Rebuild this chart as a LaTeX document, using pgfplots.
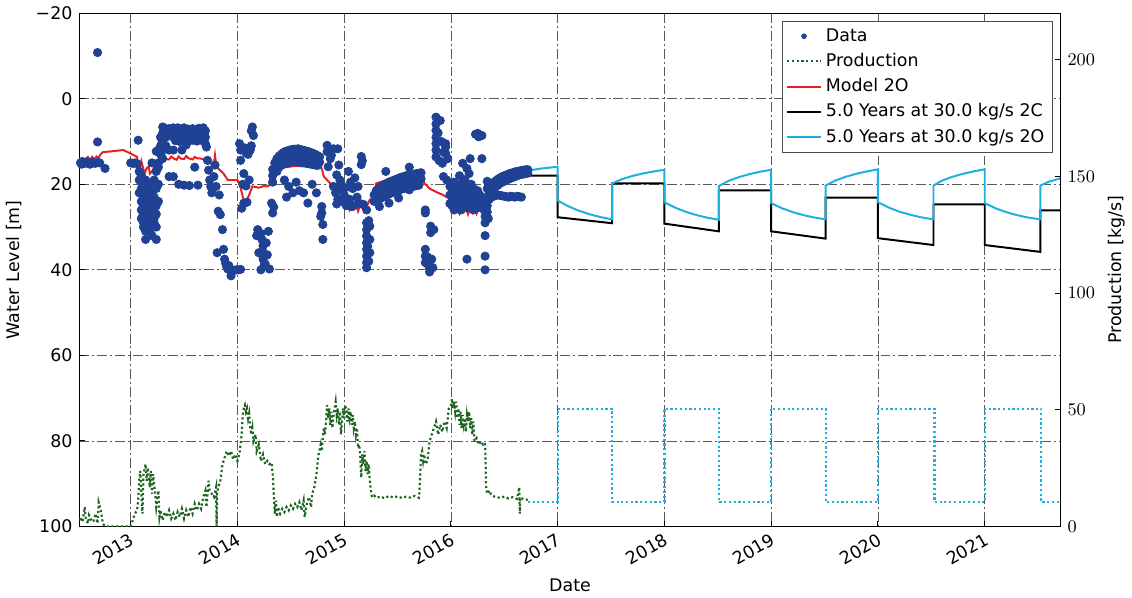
\documentclass[border=0pt]{standalone}
\usepackage{fontspec}
\setmainfont{DejaVu Sans}
\usepackage{pgfplots}
\pgfplotsset{compat=1.18}
\definecolor{datablue}{RGB}{32,66,148}
\definecolor{modelred}{RGB}{235,30,35}
\definecolor{prodgreen}{RGB}{30,100,35}
\definecolor{cyanline}{RGB}{30,175,225}
\pgfplotsset{
  common/.style={
    scale only axis, width=496pt, height=259.5pt,
    xmin=2012.52, xmax=2021.71,
    tick align=inside, major tick length=3pt,
    tick label style={font=\fontsize{8.8}{10.5}\selectfont},
    label style={font=\fontsize{8.8}{10.5}\selectfont},
    axis line style={line width=0.6pt},
    every tick/.style={black, line width=0.5pt},
  }
}
\begin{document}
\begin{tikzpicture}
\begin{axis}[common,
  ymin=-20, ymax=100, y dir=reverse,
  xtick={2013,2014,2015,2016,2017,2018,2019,2020,2021},
  xticklabels={2013,2014,2015,2016,2017,2018,2019,2020,2021},
  xticklabel style={rotate=30, anchor=north east, inner sep=2pt},
  ytick={-20,0,20,40,60,80,100},
  yticklabels={−20,0,20,40,60,80,100},
  ytick pos=left, xtick pos=bottom,
  grid=major,
  major grid style={black!65, line width=0.4pt, dash pattern=on 5pt off 1.5pt on 1pt off 1.5pt},
  xlabel={Date}, ylabel={Water Level [m]},
]
% Data
\addplot[only marks, mark=*, mark size=2.1pt, mark options={draw=datablue, fill=datablue}] coordinates {
(2012.53,15.0)(2012.55,14.7)(2012.57,15.1)(2012.59,14.9)(2012.61,15.2)(2012.63,14.8)(2012.65,15.0)(2012.67,15.1)(2012.69,14.9)(2012.71,15.0)(2012.54,15.3)(2012.62,15.3)
(2012.69,-10.8)(2012.69,10.1)(2012.76,16.3)
(2013.00,15.0)(2013.02,15.1)(2013.04,15.0)(2013.06,15.2)(2013.07,9.7)
(2013.08,17)(2013.08,19)(2013.08,22)
(2013.10,18)(2013.10,21)(2013.10,24)(2013.10,26)(2013.10,28)
(2013.12,20)(2013.12,23)(2013.12,25)(2013.12,27)(2013.12,29)(2013.12,30)
(2013.14,19)(2013.14,22)(2013.14,24)(2013.14,26)(2013.14,28)(2013.14,29.5)(2013.14,31)(2013.14,32.9)
(2013.16,21)(2013.16,23)(2013.16,25)(2013.16,27)(2013.16,28.5)(2013.16,30)
(2013.18,20)(2013.18,24)(2013.18,26)(2013.18,28)(2013.18,29.5)(2013.18,31)
(2013.20,15)(2013.20,22)(2013.20,25)(2013.20,27)(2013.20,28.5)(2013.20,30)(2013.20,32)
(2013.22,19)(2013.22,23)(2013.22,26)(2013.22,28)(2013.22,29)
(2013.24,12.3)(2013.24,17)(2013.24,21)(2013.24,25)(2013.24,27)(2013.24,30)(2013.24,32.9)
(2013.26,12)(2013.26,15)(2013.26,16)(2013.26,20)(2013.26,24)
(2013.28,13)(2013.28,11)(2013.28,9)(2013.30,6.6)(2013.30,8)(2013.30,10)(2013.30,12)(2013.30,14)
(2013.33,7)(2013.33,9)(2013.33,11)(2013.36,7)(2013.36,8)(2013.36,18.2)(2013.36,12)
(2013.40,6.8)(2013.40,8)(2013.40,9)(2013.40,18.2)(2013.40,12)
(2013.42,7.2)(2013.42,8.6)(2013.42,9.8)(2013.44,6.8)(2013.44,8.0)(2013.44,9.4)
(2013.46,7.4)(2013.46,8.8)(2013.46,10.0)(2013.48,7.0)(2013.48,8.2)(2013.48,9.5)
(2013.50,6.8)(2013.50,8.5)(2013.50,9.8)(2013.52,7.3)(2013.52,8.1)(2013.52,9.3)
(2013.54,7.1)(2013.54,8.7)(2013.54,9.9)(2013.56,7.5)(2013.56,8.3)(2013.56,9.4)
(2013.58,7.0)(2013.58,8.5)(2013.58,9.7)(2013.60,7.4)(2013.60,8.2)(2013.60,9.5)
(2013.62,7.2)(2013.62,8.8)(2013.62,9.9)(2013.64,6.9)(2013.64,8.4)(2013.64,9.6)
(2013.66,7.3)(2013.66,8.6)(2013.68,6.8)(2013.68,8.3)(2013.68,9.9)
(2013.70,7.5)(2013.70,9.0)(2013.70,10.5)
(2013.45,20)(2013.50,20.2)(2013.55,20.3)(2013.60,16)(2013.63,20.2)(2013.48,12)(2013.52,10.8)
(2013.71,11.3)(2013.72,14.4)(2013.73,16.7)(2013.74,19)(2013.75,20.5)(2013.78,18.2)(2013.80,20.5)(2013.76,22)(2013.79,15.5)
(2013.82,26.3)(2013.84,27.1)(2013.86,30.6)(2013.87,35.2)(2013.81,36)(2013.83,22.5)
(2013.88,37.5)(2013.89,38.5)(2013.90,39.3)(2013.91,39.8)(2013.93,40)(2013.95,40.1)(2013.97,40.1)(2013.99,40)(2014.01,40)(2014.03,39.9)(2013.94,41.4)(2013.92,39)
(2014.14,6.6)(2014.15,8.6)(2014.13,7.5)(2014.03,12)(2014.12,12)(2014.03,14.4)(2014.06,17.5)(2014.11,19)(2014.04,25.6)(2014.06,24.4)(2014.02,10.5)(2014.10,13)(2014.05,20)(2014.13,11)(2014.07,11.5)(2014.08,12.7)(2014.09,24.2)(2014.08,20.4)
(2014.18,32)(2014.19,30.6)(2014.22,31.5)(2014.23,32.9)(2014.24,34.4)(2014.24,35.9)(2014.24,37.5)(2014.25,39)(2014.27,33.7)(2014.30,39.8)(2014.20,36)(2014.28,36.5)(2014.26,38.6)(2014.22,40)(2014.29,31)
(2014.32,24.4)(2014.33,26.7)(2014.34,25.3)
(2014.33,16.5)(2014.33,18.0)(2014.33,19.5)(2014.35,15.0)(2014.35,16.5)
(2014.37,14.0)(2014.37,15.5)(2014.37,17.0)(2014.39,13.4)(2014.39,14.8)(2014.39,16.0)
(2014.41,13.0)(2014.41,14.3)(2014.41,15.6)(2014.43,12.6)(2014.43,14.0)(2014.43,15.3)
(2014.45,12.3)(2014.45,13.8)(2014.45,15.1)(2014.47,12.2)(2014.47,13.6)(2014.47,15.0)
(2014.49,12.0)(2014.49,13.4)(2014.49,14.8)(2014.51,11.9)(2014.51,13.3)(2014.51,14.7)
(2014.53,11.8)(2014.53,13.2)(2014.53,14.6)(2014.55,11.8)(2014.55,13.3)(2014.55,14.7)
(2014.57,11.7)(2014.57,13.2)(2014.57,14.8)(2014.59,11.9)(2014.59,13.4)(2014.59,14.9)
(2014.61,12.0)(2014.61,13.5)(2014.61,15.0)(2014.63,12.1)(2014.63,13.6)(2014.63,15.0)
(2014.65,12.3)(2014.65,13.7)(2014.65,15.1)(2014.67,12.4)(2014.67,13.8)(2014.67,15.2)
(2014.69,12.6)(2014.69,14.0)(2014.69,15.3)(2014.71,12.8)(2014.71,14.2)(2014.71,15.4)
(2014.73,13.0)(2014.73,14.4)(2014.73,15.5)(2014.75,13.3)(2014.75,14.6)(2014.75,15.6)
(2014.77,13.6)(2014.77,14.8)
(2014.44,19)(2014.48,20.5)(2014.52,22)(2014.55,19.5)(2014.58,21.5)(2014.62,22)(2014.66,24.4)(2014.70,20)(2014.74,22)(2014.46,23)
(2014.79,25.2)(2014.79,26.7)(2014.80,29.4)(2014.80,32.9)(2014.78,27.5)
(2014.84,10.9)(2014.84,12.4)(2014.88,13.2)(2014.90,11.7)(2014.94,11.7)(2014.95,15.5)(2014.85,15.9)(2014.93,17.8)(2014.96,19)(2014.87,14)
(2014.90,20.5)(2014.92,22)(2014.94,23.5)(2014.96,21)(2014.98,24)(2015.00,22.5)(2015.02,25)(2014.93,24.6)(2014.97,20)(2015.01,20.8)
(2015.04,17)(2015.06,19.5)(2015.08,21)(2015.10,18.5)(2015.12,23)(2015.14,24.4)(2015.16,13.5)(2015.17,14.5)(2015.16,15.4)(2015.05,23.5)(2015.09,25)(2015.13,20.5)(2015.18,24.7)(2015.03,24.3)(2015.07,25.2)
(2015.21,29)(2015.21,30.6)(2015.21,32.1)(2015.21,33.7)(2015.21,35.2)(2015.21,36.8)(2015.21,38.3)(2015.21,39.5)(2015.24,29.8)(2015.24,32.9)(2015.24,36)(2015.21,26)(2015.23,28.5)(2015.22,34.5)(2015.23,38)
(2015.28,22.5)(2015.28,24.0)(2015.30,21.5)(2015.30,23.0)
(2015.32,21.0)(2015.32,22.4)(2015.32,23.8)(2015.34,20.6)(2015.34,22.0)(2015.34,23.3)
(2015.36,20.3)(2015.36,21.7)(2015.36,23.0)(2015.38,20.0)(2015.38,21.4)(2015.38,22.8)
(2015.40,19.8)(2015.40,21.2)(2015.40,22.5)(2015.42,19.5)(2015.42,21.0)(2015.42,22.3)
(2015.44,19.3)(2015.44,20.7)(2015.44,22.0)(2015.46,19.1)(2015.46,20.5)(2015.46,21.9)
(2015.48,18.9)(2015.48,20.3)(2015.48,21.7)(2015.50,18.7)(2015.50,20.1)(2015.50,21.5)
(2015.52,18.5)(2015.52,19.9)(2015.52,21.3)(2015.54,18.3)(2015.54,19.7)(2015.54,21.1)
(2015.56,18.2)(2015.56,19.6)(2015.56,21.0)(2015.58,18.0)(2015.58,19.4)(2015.58,20.8)
(2015.60,17.9)(2015.60,19.3)(2015.60,20.7)(2015.62,17.8)(2015.62,19.2)(2015.62,20.6)
(2015.64,17.7)(2015.64,19.1)(2015.64,20.5)(2015.66,17.6)(2015.66,19.0)(2015.66,20.4)
(2015.68,17.5)(2015.68,18.9)(2015.68,20.3)(2015.70,17.4)(2015.70,18.8)(2015.70,20.2)
(2015.72,17.3)(2015.72,18.7)
(2015.33,25.2)(2015.42,24.4)(2015.51,23.2)(2015.61,21.3)(2015.39,17)(2015.61,16)
(2015.76,26)(2015.76,26.7)(2015.81,29.8)(2015.81,31.3)(2015.84,30.6)(2015.76,35.2)(2015.76,36.8)(2015.76,38.3)(2015.79,39)(2015.82,37.5)(2015.80,40.5)(2015.78,37)(2015.83,39.5)
(2015.86,4.3)(2015.86,5.9)(2015.86,7.4)(2015.86,9)(2015.86,10.5)(2015.86,12)(2015.86,13.6)(2015.90,5.1)(2015.95,10.5)(2015.95,11.3)(2015.95,12.8)(2015.92,15.1)(2015.93,18.2)(2015.96,19)(2015.88,8)(2015.91,10)(2015.93,12.5)(2015.89,14.5)(2015.97,14)
(2015.99,20.5)(2015.99,22.5)(2015.99,24.5)(2016.01,21.0)(2016.01,23.0)(2016.01,25.0)
(2016.03,19.5)(2016.03,22.0)(2016.03,24.0)(2016.03,26.0)(2016.05,20.5)(2016.05,22.5)(2016.05,24.5)
(2016.07,21.5)(2016.07,23.5)(2016.07,25.5)(2016.09,20.0)(2016.09,22.0)(2016.09,24.0)(2016.09,26.0)
(2016.11,21.0)(2016.11,23.0)(2016.11,25.0)(2016.13,19.0)(2016.13,22.5)(2016.13,24.5)
(2016.15,20.5)(2016.15,23.5)(2016.15,25.5)(2016.17,21.5)(2016.17,22.5)(2016.17,24.5)
(2016.19,20.0)(2016.19,23.0)(2016.19,25.0)(2016.21,21.0)(2016.21,24.0)(2016.21,26.0)
(2016.23,22.0)(2016.23,24.5)(2016.25,21.5)(2016.25,23.5)(2016.25,25.5)
(2016.27,22.5)(2016.27,24.5)(2016.29,23.0)(2016.29,25.0)(2016.31,24.0)(2016.31,26.0)
(2016.11,15.1)(2016.15,16.3)(2016.17,17.5)(2016.18,14)(2016.13,19)(2016.08,18)
(2016.23,8.3)(2016.25,8.1)(2016.27,8.4)(2016.29,8.6)(2016.26,8.9)(2016.29,14)(2016.15,37.5)(2016.32,36.8)(2016.32,40)(2016.32,27.5)(2016.32,29)(2016.32,32)
(2016.34,19.3)(2016.34,21)(2016.34,23)(2016.34,25)(2016.34,26.5)(2016.35,28)
(2016.36,20.5)(2016.36,22.0)(2016.36,23.5)(2016.38,20.2)(2016.38,21.5)(2016.38,23.0)
(2016.40,19.6)(2016.40,21.0)(2016.40,22.8)(2016.42,19.2)(2016.42,20.6)(2016.42,22.6)
(2016.44,18.8)(2016.44,20.2)(2016.44,22.5)(2016.46,18.5)(2016.46,19.8)(2016.46,22.6)
(2016.48,18.2)(2016.48,19.5)(2016.48,22.7)(2016.50,18.0)(2016.50,19.3)(2016.50,22.8)
(2016.52,17.8)(2016.52,19.0)(2016.52,22.9)(2016.54,17.6)(2016.54,18.8)(2016.54,23.0)
(2016.56,17.4)(2016.56,18.6)(2016.56,22.8)(2016.58,17.3)(2016.58,18.4)(2016.58,22.9)
(2016.60,17.1)(2016.60,18.2)(2016.60,23.0)(2016.62,17.0)(2016.62,18.0)(2016.62,22.8)
(2016.64,16.9)(2016.64,17.8)(2016.64,22.9)(2016.66,16.8)(2016.66,17.7)(2016.66,23.0)
(2016.68,16.7)(2016.68,17.6)(2016.70,16.6)(2016.70,17.5)(2016.72,16.6)(2016.72,17.4)
};
% Model 2O
\addplot[modelred, line width=1pt] coordinates {
(2012.52,14.2)(2012.54,13.9)(2012.56,14.8)(2012.58,14.0)(2012.60,13.6)(2012.62,14.5)(2012.64,13.6)(2012.66,14.2)(2012.68,13.5)(2012.70,13.8)(2012.72,12.9)(2012.74,12.5)(2012.93,12.0)(2013.00,12.8)(2013.06,13.6)(2013.07,15.4)(2013.09,15.9)(2013.10,14.6)(2013.12,16.5)(2013.13,17.5)(2013.15,16.3)(2013.17,15.8)(2013.18,17.5)(2013.20,17.0)(2013.22,16.0)(2013.25,16.5)(2013.27,14.2)(2013.28,14.0)(2013.30,14.0)(2013.32,13.4)(2013.33,14.1)(2013.36,14.2)(2013.38,13.5)(2013.40,13.9)(2013.43,14.3)(2013.45,13.5)(2013.47,14.0)(2013.50,14.1)(2013.52,13.4)(2013.54,13.9)(2013.58,14.2)(2013.60,13.6)(2013.62,13.9)(2013.66,14.0)(2013.70,14.3)(2013.71,15.1)(2013.78,15.1)(2013.79,13.2)(2013.80,15.3)(2013.82,16.3)(2013.87,17.5)(2013.91,19.0)(2014.00,19.0)(2014.02,19.8)(2014.05,22.9)(2014.07,24.4)(2014.09,23.5)(2014.11,22.5)(2014.14,20.5)(2014.20,20.8)(2014.25,20.4)(2014.28,20.5)(2014.30,20.2)(2014.31,17.1)(2014.34,16.3)(2014.45,16.0)(2014.55,15.7)(2014.65,15.8)(2014.71,15.9)(2014.78,15.5)(2014.81,18.2)(2014.87,19.8)(2014.90,22.1)(2014.93,23.8)(2014.99,24.3)(2015.01,25.5)(2015.03,24.6)(2015.05,26.0)(2015.07,24.8)(2015.09,25.8)(2015.11,24.5)(2015.13,26.3)(2015.15,24.9)(2015.17,25.6)(2015.19,24.6)(2015.21,25.2)(2015.24,23.6)(2015.28,23.6)(2015.30,19.8)(2015.40,19.0)(2015.50,18.3)(2015.60,17.7)(2015.73,17.1)(2015.75,19.8)(2015.77,20.2)(2015.80,21.0)(2015.84,21.5)(2015.88,22.0)(2015.92,22.4)(2015.95,22.9)(2015.98,22.9)(2016.00,26.0)(2016.04,26.0)(2016.06,25.2)(2016.08,26.8)(2016.10,25.4)(2016.12,26.5)(2016.14,25.3)(2016.16,27.0)(2016.18,25.6)(2016.20,26.6)(2016.22,25.4)(2016.24,26.9)(2016.26,25.7)(2016.28,26.2)(2016.30,25.5)(2016.32,25.5)(2016.35,20.5)(2016.45,19.3)(2016.55,18.6)(2016.65,17.9)(2016.72,17.5)
};
% 5.0 Years at 30.0 kg/s 2C
\addplot[black, line width=1pt] coordinates {
(2016.72,18.0)(2017.0,18.0)(2017.0,27.7)(2017.51,29.1)(2017.51,19.8)(2018.0,19.8)(2018.0,29.2)(2018.51,31.0)(2018.51,21.4)(2019.0,21.4)(2019.0,31.0)(2019.51,32.7)(2019.51,23.1)(2020.0,23.1)(2020.0,32.6)(2020.52,34.2)(2020.52,24.7)(2021.0,24.7)(2021.0,34.2)(2021.52,35.8)(2021.52,26.1)(2021.71,26.1)
};
% 5.0 Years at 30.0 kg/s 2O
\addplot[cyanline, line width=1pt] coordinates {
(2016.72,16.8)(2016.85,16.3)(2017.0,15.9)
(2017.0,23.8)(2017.1,25.15)(2017.2,26.2)(2017.3,27.02)(2017.4,27.66)(2017.51,28.2)
(2017.51,19.8)(2017.6,18.82)(2017.7,18.05)(2017.8,17.46)(2017.9,17.0)(2018.0,16.6)
(2018.0,24.2)(2018.1,25.46)(2018.2,26.44)(2018.3,27.2)(2018.4,27.8)(2018.51,28.3)
(2018.51,20.4)(2018.6,19.2)(2018.7,18.3)(2018.8,17.6)(2018.9,17.05)(2019.0,16.6)
(2019.0,24.4)(2019.1,25.6)(2019.2,26.5)(2019.3,27.2)(2019.4,27.75)(2019.51,28.2)
(2019.51,20.3)(2019.6,19.13)(2019.7,18.23)(2019.8,17.52)(2019.9,16.97)(2020.0,16.5)
(2020.0,24.2)(2020.1,25.43)(2020.2,26.4)(2020.3,27.1)(2020.4,27.7)(2020.52,28.2)
(2020.52,20.3)(2020.6,19.13)(2020.7,18.23)(2020.8,17.52)(2020.9,16.97)(2021.0,16.5)
(2021.0,24.4)(2021.1,25.6)(2021.2,26.5)(2021.3,27.2)(2021.4,27.75)(2021.52,28.2)
(2021.52,20.3)(2021.6,19.4)(2021.71,18.6)
};
\end{axis}
\begin{axis}[common,
  ymin=0, ymax=220,
  axis x line=none, axis y line*=right,
  ytick={0,50,100,150,200},
  ylabel={Production [kg/s]},
  legend cell align=left,
  legend style={at={(1,1)}, anchor=north east, xshift=-4pt, yshift=-4pt,
    draw=black!70, line width=0.4pt, font=\fontsize{8.8}{10.5}\selectfont,
    inner xsep=2pt, inner ysep=1.5pt, row sep=0.6pt},
]
\addlegendimage{only marks, mark=*, mark size=1.2pt, mark options={draw=datablue, fill=datablue}}
\addlegendentry{Data}
% Production
\addplot[prodgreen, line width=1.1pt, dash pattern=on 1.1pt off 1.3pt] coordinates {
(2012.52,2.7)(2012.53,4.1)(2012.55,2.0)(2012.56,5.5)(2012.57,8.3)(2012.58,3.4)(2012.60,1.3)(2012.61,4.8)(2012.63,2.7)(2012.65,2.0)(2012.67,5.5)(2012.69,1.3)(2012.70,10.4)(2012.72,6.9)(2012.74,1.3)(2012.76,0)
(2013.00,0)(2013.02,2.7)(2013.04,5.5)(2013.06,6.9)(2013.07,11.1)(2013.08,19.6)(2013.09,23.8)(2013.10,14)(2013.11,5.5)(2013.12,22.4)(2013.14,26.7)(2013.15,19.6)(2013.16,25.2)(2013.18,16.8)(2013.19,23.8)(2013.20,14)(2013.21,22.4)(2013.23,14)(2013.24,8.3)(2013.26,15.4)(2013.27,4.1)(2013.28,6.9)
(2013.30,2.7)(2013.32,6.2)(2013.34,4.1)(2013.36,6.9)(2013.38,3.4)(2013.40,5.5)(2013.42,2.7)(2013.44,6.2)(2013.46,4.1)(2013.48,7.6)(2013.50,3.4)(2013.52,6.9)(2013.54,4.1)(2013.56,8.3)(2013.58,5.5)(2013.60,9.7)(2013.62,6.9)(2013.64,9.7)(2013.66,7.6)(2013.68,12.6)(2013.70,15.4)(2013.71,8.3)(2013.72,14)(2013.73,19.6)(2013.74,15.4)(2013.76,14)(2013.78,12.6)(2013.80,16.8)(2013.805,0)(2013.81,14)(2013.82,16.8)(2013.84,19.6)
(2013.86,26.7)(2013.88,29.5)(2013.90,32.3)(2013.92,30.2)(2013.94,32.3)(2013.96,28.8)(2013.98,30.9)(2014.00,28.1)(2014.02,31.6)(2014.04,39.4)(2014.05,47.8)(2014.06,50.6)(2014.07,52)(2014.08,49.2)(2014.09,50.6)(2014.10,46.4)(2014.11,48.5)(2014.12,42.2)(2014.13,39.4)(2014.14,42.2)(2014.15,36.5)(2014.17,39.4)(2014.18,32.3)(2014.20,35.1)(2014.22,28.1)(2014.24,30.9)(2014.26,26.7)(2014.28,28.1)(2014.30,26.7)(2014.32,27.4)(2014.335,19.6)(2014.34,14)(2014.35,5.5)(2014.36,11.1)(2014.37,4.1)(2014.38,8.3)
(2014.40,5.5)(2014.42,7.6)(2014.44,6.2)(2014.46,8.3)(2014.48,6.9)(2014.50,9)(2014.52,7.6)(2014.54,9.7)(2014.56,8.3)(2014.58,10.4)(2014.60,6.9)(2014.62,11.1)(2014.63,4.1)(2014.65,9.7)(2014.67,12.6)(2014.69,8.3)(2014.70,14)(2014.72,16.8)(2014.74,22.4)(2014.76,30.9)(2014.78,35.1)(2014.79,32.3)(2014.80,37.9)(2014.81,42.2)(2014.82,39.4)(2014.83,45)(2014.84,52)(2014.85,46.4)(2014.86,50.6)(2014.87,43.6)(2014.88,49.2)(2014.89,42.2)(2014.90,47.8)
(2014.92,53.5)(2014.93,47.8)(2014.94,50.6)(2014.95,43.6)(2014.96,49.2)(2014.97,39.4)(2014.98,45)(2014.99,50.6)(2015.00,46.4)(2015.01,52)(2015.02,49.2)(2015.03,45)(2015.04,50.6)(2015.05,46.4)(2015.06,49.2)(2015.07,43.6)(2015.08,47.8)(2015.09,42.2)(2015.10,45)(2015.11,39.4)(2015.12,42.2)(2015.13,33.7)(2015.14,35.1)(2015.15,30.9)(2015.16,21)(2015.17,30.9)(2015.18,26.7)(2015.19,32.3)(2015.20,23.8)(2015.21,28.1)(2015.22,22.4)(2015.23,26.7)(2015.24,19.6)(2015.25,15.4)(2015.26,12.6)(2015.28,13.3)
(2015.30,12.3)(2015.34,12.8)(2015.38,12.1)(2015.42,13.1)(2015.46,12.4)(2015.50,12.9)(2015.54,12.2)(2015.58,12.8)(2015.62,12.4)(2015.66,13.1)(2015.70,12.3)
(2015.71,19.6)(2015.72,30.9)(2015.73,32.3)(2015.74,28.1)(2015.75,30.9)(2015.76,26.7)(2015.78,28.1)(2015.79,32.3)(2015.80,36.5)(2015.82,39.4)(2015.84,42.2)(2015.86,45)(2015.88,39.4)(2015.90,43.6)(2015.92,40.6)(2015.94,45)(2015.96,42.2)(2015.98,50.6)
(2016.00,52)(2016.01,54.7)(2016.02,50.6)(2016.03,53.5)(2016.04,49.2)(2016.05,53.5)(2016.06,46.4)(2016.07,50.6)(2016.08,43.6)(2016.09,49.2)(2016.10,42.2)(2016.11,47.8)(2016.12,43.6)(2016.13,46.4)(2016.14,40.6)(2016.15,47.8)(2016.16,45)(2016.17,49.2)(2016.18,42.2)(2016.19,46.4)(2016.20,39.4)(2016.21,45)(2016.22,36.5)(2016.24,37.9)(2016.26,35.1)(2016.28,36.5)(2016.30,35.1)(2016.32,35.8)
(2016.33,16.8)(2016.34,14)(2016.36,15.4)(2016.38,13.3)(2016.42,12.6)(2016.46,12.3)(2016.50,12.8)(2016.54,12)(2016.58,12.6)(2016.62,11.8)(2016.64,16.8)(2016.645,5.5)(2016.65,12.3)(2016.68,11.8)(2016.72,11.4)
};
\addlegendentry{Production}
\addlegendimage{modelred, line width=1pt}
\addlegendentry{Model 2O}
\addlegendimage{black, line width=1pt}
\addlegendentry{5.0 Years at 30.0 kg/s 2C}
\addlegendimage{cyanline, line width=1pt}
\addlegendentry{5.0 Years at 30.0 kg/s 2O}
% future production
\addplot[cyanline, line width=1.1pt, dash pattern=on 1.1pt off 1.3pt, forget plot] coordinates {
(2016.72,10.5)(2017.0,10.5)(2017.0,50.5)(2017.51,50.5)(2017.51,10.5)(2018.0,10.5)(2018.0,50.5)(2018.51,50.5)(2018.51,10.5)(2019.0,10.5)(2019.0,50.5)(2019.51,50.5)(2019.51,10.5)(2020.0,10.5)(2020.0,50.5)(2020.53,50.5)(2020.53,10.5)(2021.0,10.5)(2021.0,50.5)(2021.53,50.5)(2021.53,10.5)(2021.71,10.5)
};
\end{axis}
\end{tikzpicture}
\end{document}
